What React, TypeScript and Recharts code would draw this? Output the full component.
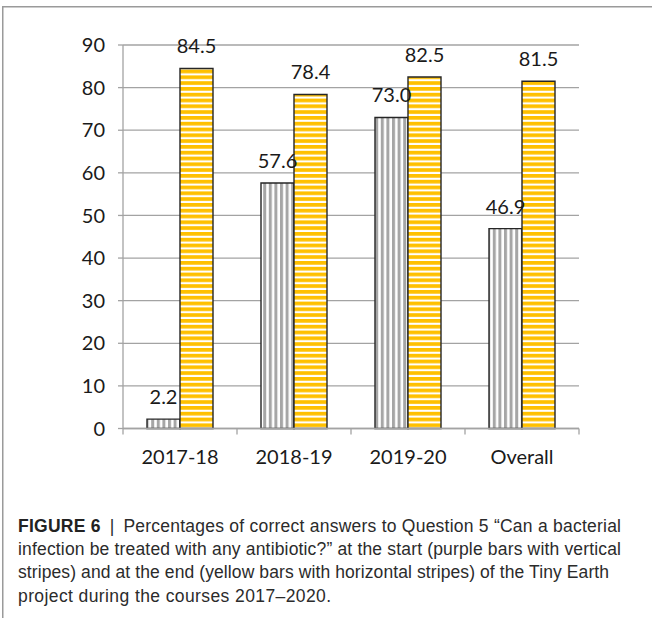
import { BarChart, Bar, XAxis, YAxis, CartesianGrid, LabelList } from "recharts";

const categories = ["2017-18", "2018-19", "2019-20", "Overall"];
const startValues = [2.2, 57.6, 73.0, 46.9];
const endValues = [84.5, 78.4, 82.5, 81.5];
const yTicks = [0, 10, 20, 30, 40, 50, 60, 70, 80, 90];

const captionRest = [
  "infection be treated with any antibiotic?\u201d at the start (purple bars with vertical",
  "stripes) and at the end (yellow bars with horizontal stripes) of the Tiny Earth",
  "project during the courses 2017\u20132020.",
];

const data = categories.map((name, i) => ({
  name,
  start: startValues[i],
  end: endValues[i],
}));

const FONT = "Lato, 'Open Sans', sans-serif";
const CAPTION_FONT = "'Liberation Sans', Arial, sans-serif";
const AXIS = "#a3a3a3";

const CategoryTick = (props: any) => {
  const { x, y, payload, index, visibleTicksCount } = props;
  const half = payload?.offset ?? 0;
  const last = index === visibleTicksCount - 1;
  return (
    <g>
      <line x1={x - half} x2={x - half} y1={y} y2={y + 6} stroke={AXIS} strokeWidth={1.3} />
      {last && (
        <line x1={x + half} x2={x + half} y1={y} y2={y + 6} stroke={AXIS} strokeWidth={1.3} />
      )}
      <text x={x} y={y + 35} textAnchor="middle" fontSize={20} fontFamily={FONT} fill="#1a1a1a">
        {payload.value}
      </text>
    </g>
  );
};

export default function App() {
  return (
    <div
      style={{
        position: "absolute",
        left: 0,
        top: 0,
        width: 652,
        height: 618,
        overflow: "hidden",
        background: "#fff",
      }}
    >
      <div style={{ position: "absolute", left: 0, top: 0 }}>
        <BarChart
          width={652}
          height={480}
          data={data}
          margin={{ top: 45, right: 73, left: 0, bottom: 0 }}
          barGap={0}
          barSize={33}
        >
          <defs>
            <pattern id="vstripes" patternUnits="userSpaceOnUse" width={5.6} height={10}>
              <rect width={5.6} height={10} fill="#ffffff" />
              <rect width={3} height={10} fill="#a6a6a6" />
            </pattern>
            <pattern id="hstripes" patternUnits="userSpaceOnUse" width={10} height={5.8}>
              <rect width={10} height={5.8} fill="#ffffff" />
              <rect width={10} height={3.7} fill="#ffc000" />
            </pattern>
          </defs>
          <CartesianGrid vertical={false} stroke={AXIS} strokeWidth={1.3} />
          <XAxis
            dataKey="name"
            height={51.5}
            tickLine={false}
            tickSize={0}
            tickMargin={0}
            stroke={AXIS}
            strokeWidth={1.3}
            interval={0}
            tick={<CategoryTick />}
          />
          <YAxis
            width={123}
            domain={[0, 90]}
            ticks={yTicks}
            interval={0}
            tickSize={5}
            tickMargin={13}
            stroke={AXIS}
            strokeWidth={1.3}
            tick={{ fontSize: 20, fontFamily: FONT, fill: "#1a1a1a" }}
          />
          <Bar dataKey="start" fill="url(#vstripes)" stroke="#262626" strokeWidth={1.4} isAnimationActive={false}>
            <LabelList
              dataKey="start"
              position="top"
              offset={15}
              formatter={(v: any) => Number(v).toFixed(1)}
              style={{ fontSize: 20, fontFamily: FONT, fill: "#1a1a1a" }}
            />
          </Bar>
          <Bar dataKey="end" fill="url(#hstripes)" stroke="#262626" strokeWidth={1.4} isAnimationActive={false}>
            <LabelList
              dataKey="end"
              position="top"
              offset={15}
              formatter={(v: any) => Number(v).toFixed(1)}
              style={{ fontSize: 20, fontFamily: FONT, fill: "#1a1a1a" }}
            />
          </Bar>
        </BarChart>
      </div>
      {/* figure frame and caption */}
      <svg
        width={652}
        height={618}
        style={{ position: "absolute", left: 0, top: 0, pointerEvents: "none" }}
      >
        <path d="M2.75 618 V6.75 H652" fill="none" stroke="#9a9a9a" strokeWidth={1.5} />
        <text
          x={18}
          y={531.7}
          fontFamily={CAPTION_FONT}
          fontSize={17.5}
          fill="#2b2b2b"
          textLength={603}
          lengthAdjust="spacing"
        >
          <tspan fontWeight="bold" fill="#222">FIGURE 6</tspan>
          <tspan dx={9}>|</tspan>
          <tspan dx={9}>Percentages of correct answers to Question 5 {"\u201c"}Can a bacterial</tspan>
        </text>
        {captionRest.map((line, i) =>
          i < 2 ? (
            <text
              key={line}
              x={18}
              y={555 + i * 23.3}
              fontFamily={CAPTION_FONT}
              fontSize={17.5}
              fill="#2b2b2b"
              textLength={[603, 591][i]}
              lengthAdjust="spacing"
            >
              {line}
            </text>
          ) : (
            <text
              key={line}
              x={18}
              y={555 + i * 23.3}
              fontFamily={CAPTION_FONT}
              fontSize={17.5}
              fill="#2b2b2b"
              letterSpacing={0.4}
            >
              {line}
            </text>
          )
        )}
      </svg>
    </div>
  );
}
